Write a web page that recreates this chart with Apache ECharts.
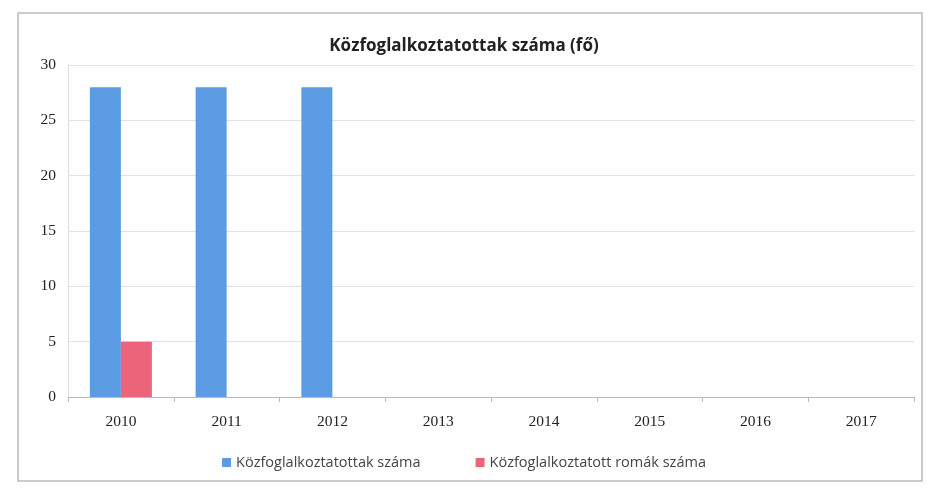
<!DOCTYPE html>
<html>
<head>
<meta charset="utf-8">
<script src="https://cdn.jsdelivr.net/npm/echarts@6/dist/echarts.min.js"></script>
<style>
html,body{margin:0;padding:0;background:#fff;}
#main{width:928px;height:490px;}
</style>
</head>
<body>
<div id="main"></div>
<script>
// évek és értékek
var years = ['2010', '2011', '2012', '2013', '2014', '2015', '2016', '2017'];
var kozfogl = [28, 28, 28, null, null, null, null, null];   // Közfoglalkoztatottak száma
var romak = [5, null, null, null, null, null, null, null];   // Közfoglalkoztatott romák száma
var yTicks = [0, 5, 10, 15, 20, 25, 30];

var chart = echarts.init(document.getElementById('main'));
chart.setOption({
    animation: false,
    title: {
        text: 'Közfoglalkoztatottak száma (fő)',
        left: 'center',
        top: 33,
        textStyle: {fontFamily: 'Open Sans', fontWeight: 'bold', fontSize: 17, color: '#222'}
    },
    graphic: [{
        type: 'rect',
        shape: {x: 18, y: 13, width: 904, height: 468},
        style: {fill: 'none', stroke: '#bbb', lineWidth: 1.5},
        silent: true
    }],
    legend: {
        bottom: 15,
        left: 'center',
        itemWidth: 9,
        itemHeight: 9,
        itemGap: 55,
        icon: 'rect',
        textStyle: {fontFamily: 'Open Sans', fontSize: 14.5, color: '#444'},
        data: ['Közfoglalkoztatottak száma', 'Közfoglalkoztatott romák száma']
    },
    grid: {left: 68, right: 14, top: 65, bottom: 93},
    xAxis: {
        type: 'category',
        data: years,
        axisLine: {lineStyle: {color: '#bbb'}},
        axisTick: {show: true, length: 5, lineStyle: {color: '#bbb'}},
        axisLabel: {fontFamily: 'Liberation Serif', fontSize: 15.5, color: '#222', margin: 17}
    },
    yAxis: {
        type: 'value',
        min: yTicks[0],
        max: yTicks[yTicks.length - 1],
        interval: 5,
        axisLine: {show: true, lineStyle: {color: '#ddd'}},
        splitLine: {lineStyle: {color: '#e2e2e2'}},
        axisLabel: {fontFamily: 'Liberation Serif', fontSize: 15.5, color: '#222', margin: 12}
    },
    series: [
        {
            name: 'Közfoglalkoztatottak száma',
            type: 'bar',
            data: kozfogl,
            barWidth: 31,
            barGap: '0%',
            itemStyle: {color: '#5a9be3'}
        },
        {
            name: 'Közfoglalkoztatott romák száma',
            type: 'bar',
            data: romak,
            barWidth: 31,
            itemStyle: {color: '#eb6479'}
        }
    ]
});
</script>
</body>
</html>
